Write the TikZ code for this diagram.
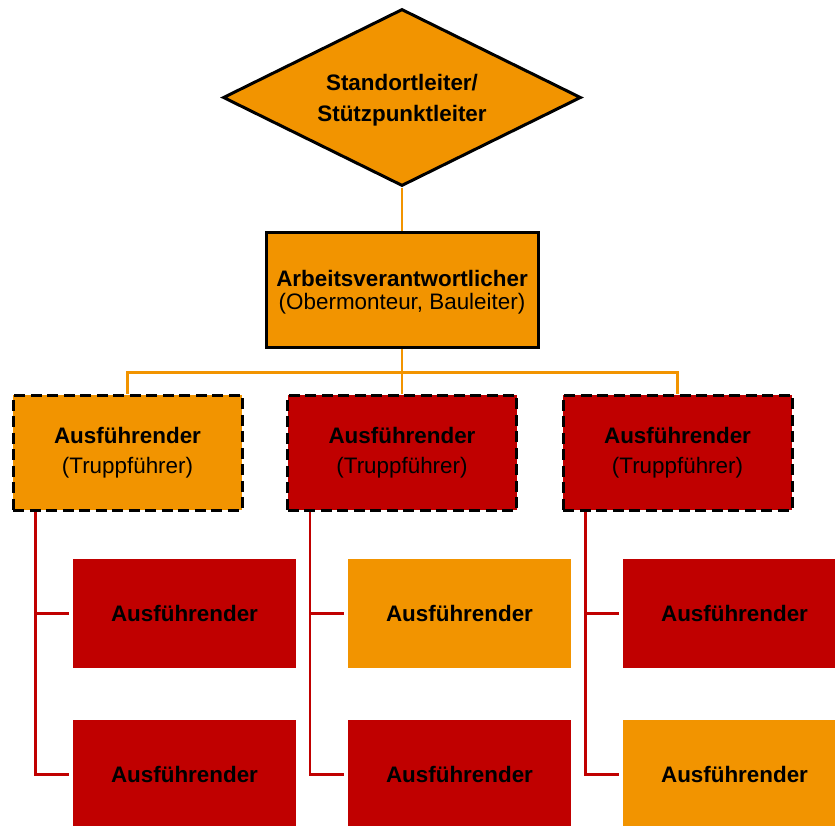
\documentclass[tikz,border=0pt]{standalone}
\usepackage{fontspec}
\setmainfont{Liberation Sans}
\usetikzlibrary{positioning, shapes.geometric, calc, backgrounds}
\definecolor{vOrange}{HTML}{F29400}
\definecolor{vRed}{HTML}{C00000}

\begin{document}
\begin{tikzpicture}[x=0.5pt, y=-0.5pt,
  chef/.style={diamond, aspect=2, draw=black, fill=vOrange, line width=1.5pt, minimum width=179pt, minimum height=88.5pt,
               inner sep=0pt, text depth=0pt, align=center, font=\fontsize{11.2}{15.5}\selectfont\bfseries},
  avbox/.style={draw=black, fill=vOrange, line width=1.5pt, minimum width=136pt, minimum height=57.5pt,
                text depth=0pt, align=center, font=\fontsize{11.2}{11.5}\selectfont},
  tfbox/.style={draw=black, dash pattern=on 5.5pt off 2.75pt, line width=1.5pt, minimum width=114.5pt,
                minimum height=57.5pt, align=center, font=\fontsize{11.2}{15}\selectfont},
  ausbox/.style={minimum width=111.5pt, minimum height=54.5pt, font=\fontsize{11.2}{13}\selectfont\bfseries},
  oline/.style={draw=vOrange, line width=1.4pt},
  rline/.style={draw=vRed, line width=1.3pt},
]
  \useasboundingbox (0,0) rectangle (835,825);
  \def\ya{613.5}\def\yb{774.5}
  \node[chef] (leiter) at (402,97.5) {Standortleiter/\\Stützpunktleiter};
  \node[avbox] (avw) at (402,289.5) {\textbf{Arbeitsverantwortlicher}\\(Obermonteur, Bauleiter)};
  \node[tfbox, fill=vOrange] (tf1) at (127.5,452.5) {\textbf{Ausführender}\\(Truppführer)};
  \node[tfbox, fill=vRed] (tf2) at (402,452.5) {\textbf{Ausführender}\\(Truppführer)};
  \node[tfbox, fill=vRed] (tf3) at (677.5,452.5) {\textbf{Ausführender}\\(Truppführer)};
  \node[ausbox, fill=vRed] (a11) at (184.5,\ya) {Ausführender};
  \node[ausbox, fill=vRed] (a12) at (184.5,\yb) {Ausführender};
  \node[ausbox, fill=vOrange] (a21) at (459.5,\ya) {Ausführender};
  \node[ausbox, fill=vRed] (a22) at (459.5,\yb) {Ausführender};
  \node[ausbox, fill=vRed] (a31) at (734.5,\ya) {Ausführender};
  \node[ausbox, fill=vOrange] (a32) at (734.5,\yb) {Ausführender};
  \begin{scope}[on background layer]
    \coordinate (bus) at ($(avw.south)+(0,24)$);
    \draw[oline] (leiter.south) -- (avw.north);
    \draw[oline] (avw.south) -- (tf2.north);
    \draw[oline] (tf1.north) |- (bus) -| (tf3.north);
    \foreach \t/\u/\l in {tf1/a11/a12, tf2/a21/a22, tf3/a31/a32} {
      \draw[rline] ([xshift=12pt]\t.south west) |- ([xshift=-2pt]\l.west);
      \draw[rline] ([xshift=12pt]\t.south west |- \u.west) -- ([xshift=-2pt]\u.west);
    }
  \end{scope}
\end{tikzpicture}
\end{document}
